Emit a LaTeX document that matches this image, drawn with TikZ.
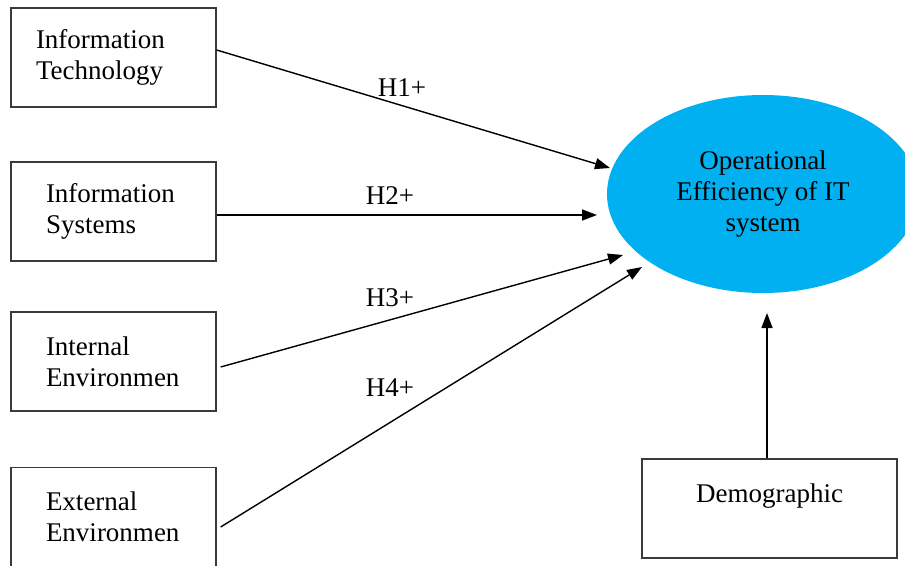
\documentclass[tikz,border=0pt]{standalone}
\usepackage{fontspec}
\setmainfont{Liberation Serif}
\usetikzlibrary{arrows.meta,shapes.geometric}
\definecolor{oval}{HTML}{00B0F0}
\definecolor{frame}{HTML}{3A3A3A}
\begin{document}
\begin{tikzpicture}[x=1pt,y=-1pt,
  txt/.style={font=\fontsize{27}{31}\selectfont},
  box/.style={txt, draw=frame, line width=1.3pt, rectangle,
    minimum width=205pt, minimum height=99pt, inner ysep=0pt, align=left},
  outcome/.style={txt, ellipse, fill=oval, minimum width=312pt,
    minimum height=198pt, inner sep=0pt, align=center},
  conn/.style={line width=1.4pt, -{Triangle[length=15pt,width=11pt]}},
  hyp/.style={txt, inner sep=0pt}]
  \useasboundingbox (0,0) rectangle (905,565);
  \clip (0,0) rectangle (905,565);

  % independent variables
  \node[box, inner xsep=25pt, text width=155pt] (it) at (113.5,57.5)
    {Information\\Technology};
  \node[box, inner xsep=35pt, text width=135pt] (is) at (113.5,211.5)
    {Information\\Systems};
  \node[box, inner xsep=35pt, text width=135pt] (ie) at (113.5,361.5)
    {Internal\\Environmen};
  \node[box, inner xsep=35pt, text width=135pt] (ee) at (113.5,517)
    {External\\Environmen};

  % dependent variable
  \node[outcome] (oe) at (763,194)
    {Operational\\Efficiency of IT\\system};

  % control variable
  \node[box, minimum width=255pt, align=center] (dm) at (769.5,508.5)
    {Demographic\\\mbox{}};

  % arrow tips stop short of the ellipse
  \coordinate (t1) at (610,168);
  \coordinate (t2) at (597,215);
  \coordinate (t3) at (623,255);
  \coordinate (t4) at (642,267);
  \coordinate (t5) at (767,313);

  \draw[conn] ([yshift=7.5pt]it.east) -- (t1);
  \draw[conn] ([yshift=-3.5pt]is.east) -- (t2);
  \draw[conn] ([xshift=4pt,yshift=-5.5pt]ie.east) -- (t3);
  \draw[conn] ([xshift=4pt,yshift=-10pt]ee.east) -- (t4);
  \draw[conn] ([xshift=-2.5pt]dm.north) -- (t5);

  % hypothesis labels
  \node[hyp] (h1) at (402,88) {H1+};
  \node[hyp] (h2) at (390,196) {H2+};
  \node[hyp] (h3) at (390,298) {H3+};
  \node[hyp] (h4) at (390,388) {H4+};
\end{tikzpicture}
\end{document}
